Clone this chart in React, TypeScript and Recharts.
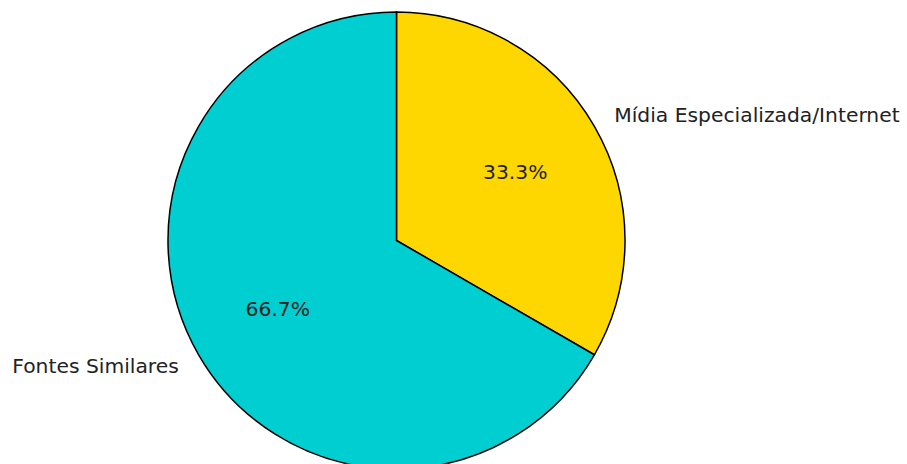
import { PieChart, Pie, Cell } from 'recharts';

const categories = ['Mídia Especializada/Internet', 'Fontes Similares'];
const values = [1, 2];
const colors = ['#FFD700', '#00CED1'];

const data = categories.map((name, i) => ({ name, value: values[i] }));

const RADIAN = Math.PI / 180;
const FONT = 'DejaVu Sans, sans-serif';

function renderLabel(props: any) {
  const { cx, cy, midAngle, outerRadius, percent, name } = props;
  const cos = Math.cos(-midAngle * RADIAN);
  const sin = Math.sin(-midAngle * RADIAN);
  const ox = cx + outerRadius * 1.1 * cos;
  const oy = cy + outerRadius * 1.1 * sin;
  const ix = cx + outerRadius * 0.6 * cos;
  const iy = cy + outerRadius * 0.6 * sin;
  return (
    <g>
      <text
        x={ix}
        y={iy}
        textAnchor="middle"
        dominantBaseline="central"
        fill="#222"
        style={{ fontFamily: FONT, fontSize: 20.3 }}
      >
        {(percent * 100).toFixed(1)}%
      </text>
      <text
        x={ox}
        y={oy}
        textAnchor={cos >= 0 ? 'start' : 'end'}
        dominantBaseline="central"
        fill="#222"
        style={{ fontFamily: FONT, fontSize: 20.3 }}
      >
        {name}
      </text>
    </g>
  );
}

export default function App() {
  return (
    <div style={{ position: 'absolute', left: 0, top: 0, width: 907, height: 464, background: '#fff' }}>
      <PieChart width={907} height={464} margin={{ top: 0, right: 0, bottom: 0, left: 0 }}>
        <Pie
          data={data}
          dataKey="value"
          nameKey="name"
          cx={396.5}
          cy={240.5}
          outerRadius={228.5}
          startAngle={90}
          endAngle={-270}
          stroke="#000"
          strokeWidth={1.5}
          label={renderLabel}
          labelLine={false}
          isAnimationActive={false}
        >
          {data.map((d, i) => (
            <Cell key={d.name} fill={colors[i]} />
          ))}
        </Pie>
      </PieChart>
    </div>
  );
}
